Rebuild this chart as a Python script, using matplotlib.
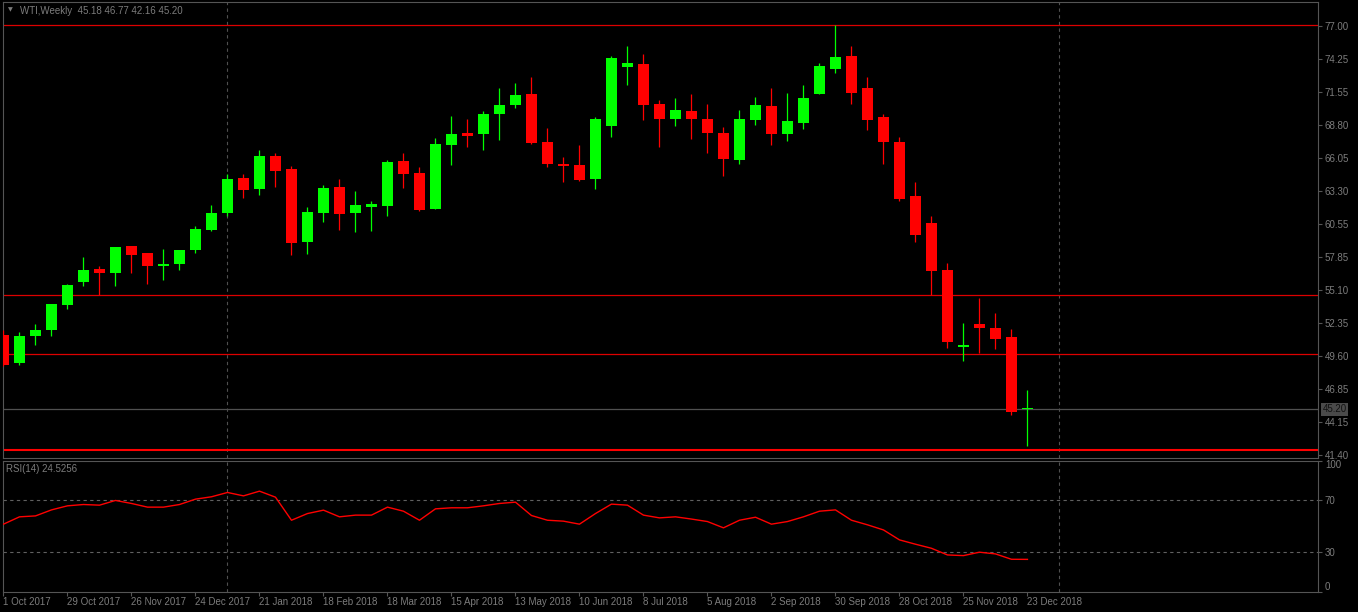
import matplotlib
matplotlib.use("Agg")
import matplotlib.pyplot as plt
import numpy as np

# ---------------- data ----------------
opens = [51.36, 49.06, 51.30, 51.80, 53.87, 55.78, 56.83, 56.53, 58.74, 58.16,
         57.11, 57.27, 58.44, 60.10, 61.51, 64.39, 63.50, 66.21, 65.13, 59.10,
         61.51, 63.64, 61.51, 62.00, 62.09, 65.80, 64.80, 61.81, 67.12, 68.12,
         68.04, 69.70, 70.44, 71.36, 67.37, 65.55, 65.46, 64.30, 68.70, 73.60,
         73.85, 70.53, 69.28, 69.95, 69.28, 68.12, 65.88, 69.20, 70.36, 68.04,
         68.95, 71.36, 73.43, 74.51, 71.85, 69.45, 67.37, 62.89, 60.65, 56.75,
         50.36, 52.27, 51.94, 51.19, 45.18]
highs = [51.77, 51.60, 52.27, 53.93, 55.59, 57.83, 57.08, 58.66, 58.74, 58.16,
         58.49, 58.41, 60.40, 62.15, 64.72, 64.72, 66.71, 66.46, 65.38, 61.98,
         63.80, 64.30, 63.31, 62.48, 65.88, 66.46, 65.30, 67.71, 69.53, 69.28,
         69.95, 71.85, 72.27, 72.77, 68.54, 66.13, 67.12, 69.45, 74.51, 75.34,
         74.68, 70.86, 71.02, 71.36, 70.53, 68.62, 70.03, 71.11, 71.85, 71.44,
         72.10, 73.93, 77.08, 75.34, 72.77, 69.70, 67.79, 64.05, 61.23, 57.33,
         52.35, 54.43, 53.18, 51.85, 46.77]
lows = [48.78, 48.87, 50.50, 51.27, 53.54, 55.45, 54.68, 55.45, 56.53, 55.61,
        55.95, 56.78, 58.19, 60.01, 61.26, 62.75, 63.00, 63.66, 57.99, 58.10,
        60.76, 60.10, 59.93, 60.01, 61.26, 63.58, 61.65, 61.81, 65.46, 66.96,
        66.71, 67.54, 70.20, 67.21, 65.30, 64.05, 64.14, 63.47, 67.79, 72.10,
        69.20, 66.96, 68.70, 67.62, 66.46, 64.55, 65.55, 68.78, 67.12, 67.46,
        68.45, 71.36, 73.10, 70.53, 68.37, 65.55, 62.48, 59.07, 54.68, 50.28,
        49.20, 49.86, 50.20, 44.72, 42.16]
closes = [48.87, 51.27, 51.77, 53.93, 55.51, 56.75, 56.53, 58.66, 58.02, 57.11,
          57.25, 58.41, 60.15, 61.48, 64.30, 63.42, 66.21, 64.99, 59.02, 61.56,
          63.56, 61.42, 62.15, 62.23, 65.71, 64.74, 61.73, 67.21, 68.04, 67.87,
          69.70, 70.44, 71.27, 67.29, 65.55, 65.38, 64.22, 69.28, 74.34, 73.93,
          70.44, 69.28, 70.03, 69.28, 68.12, 65.96, 69.28, 70.44, 68.04, 69.12,
          71.02, 73.68, 74.43, 71.44, 69.20, 67.37, 62.64, 59.66, 56.67, 50.78,
          50.53, 51.94, 51.02, 44.97, 45.20]
rsi = [51.4, 57.0, 57.7, 62.3, 65.4, 66.4, 65.9, 69.5, 67.2, 64.4,
       64.4, 66.4, 70.5, 72.3, 75.6, 73.0, 76.6, 72.0, 54.4, 59.5,
       62.1, 57.0, 58.3, 58.3, 64.4, 61.3, 54.4, 63.1, 63.9, 63.9,
       65.4, 67.2, 68.2, 58.0, 54.4, 53.7, 51.4, 59.5, 66.7, 65.9,
       58.3, 56.2, 57.0, 55.3, 53.4, 48.6, 54.4, 56.7, 51.4, 53.4,
       57.0, 61.3, 62.3, 54.4, 50.9, 47.0, 39.4, 36.1, 33.0, 27.9,
       27.4, 30.0, 28.7, 24.6, 24.5256]

xtick_idx = [0, 4, 8, 12, 16, 20, 24, 28, 32, 36, 40, 44, 48, 52, 56, 60, 64]
xtick_labels = ["1 Oct 2017", "29 Oct 2017", "26 Nov 2017", "24 Dec 2017",
                "21 Jan 2018", "18 Feb 2018", "18 Mar 2018", "15 Apr 2018",
                "13 May 2018", "10 Jun 2018", "8 Jul 2018", "5 Aug 2018",
                "2 Sep 2018", "30 Sep 2018", "28 Oct 2018", "25 Nov 2018",
                "23 Dec 2018"]
price_ticks = [77.00, 74.25, 71.55, 68.80, 66.05, 63.30, 60.55, 57.85,
               55.10, 52.35, 49.60, 46.85, 44.15, 41.40]
red_levels = [77.05, 54.66, 49.82]
support_level = 41.78
bid_price = 45.20
year_grid_idx = [14, 66]
rsi_levels = [70, 30]
rsi_ticks = [100, 70, 30, 0]
title_text = "WTI,Weekly  45.18 46.77 42.16 45.20"
rsi_text = "RSI(14) 24.5256"

# ---------------- style ----------------
BG = "#000000"
FRAME = "#555555"
TXT = "#7c7c7c"
BULL = "#00ff00"
BEAR = "#ff0000"
FONT = "Liberation Sans"
FS = 7

W, H = 1358, 612
fig = plt.figure(figsize=(W / 100, H / 100), dpi=100, facecolor=BG)
ax1 = fig.add_axes([3 / W, 1 - 458 / H, (1318 - 3) / W, (458 - 2) / H])
ax2 = fig.add_axes([3 / W, 1 - 591.5 / H, (1318 - 3) / W, (591.5 - 460.5) / H])

xlim = (-0.031, 82.16)
n = len(opens)
x = np.arange(n)
o = np.array(opens); c = np.array(closes)
hi = np.array(highs); lo = np.array(lows)
up = c >= o
cols = np.where(up, BULL, BEAR)

for ax in (ax1, ax2):
    ax.set_facecolor(BG)
    ax.set_xlim(*xlim)
    for s in ax.spines.values():
        s.set_color(FRAME)
        s.set_linewidth(0.8)
    for gx in year_grid_idx:
        ax.axvline(gx, color="#505050", lw=0.8, ls=(0, (3, 3)), zorder=1)

# main panel
ax1.set_ylim(41.15, 78.99)
for lv in red_levels:
    ax1.axhline(lv, color="#dd0000", lw=0.9, zorder=2)
ax1.axhline(support_level, color="#ff0000", lw=1.5, zorder=2)
ax1.axhline(bid_price, color="#505050", lw=0.9, zorder=2)

ax1.vlines(x, lo, hi, colors=cols, lw=0.9, zorder=3)
body_bottom = np.minimum(o, c)
body_h = np.maximum(np.abs(c - o), 0.09)
ax1.bar(x, body_h, bottom=body_bottom, width=0.6875, color=cols,
        edgecolor="none", zorder=4)

ax1.yaxis.tick_right()
ax1.set_yticks(price_ticks)
ax1.set_yticklabels([f"{v:.2f}" for v in price_ticks])
ax1.tick_params(axis="y", colors=FRAME, labelcolor=TXT, labelsize=FS,
                length=3, width=0.8, pad=2)
for t in ax1.get_yticklabels():
    t.set_fontfamily(FONT)
ax1.set_xticks([])

# bid price label box
ax1.text(1.0035, bid_price, f"{bid_price:.2f}", transform=ax1.get_yaxis_transform(),
         ha="left", va="center", fontsize=FS, family=FONT, color="#111111",
         bbox=dict(boxstyle="square,pad=0.15", fc="#4a4a4a", ec="none"),
         zorder=10, clip_on=False)

ax1.text(5 / 1315, 1 - 8 / 456, "\u25bc", transform=ax1.transAxes, ha="left",
         va="center", fontsize=4.5, color=TXT, family="DejaVu Sans")
ax1.text(17 / 1315, 1 - 9 / 456, title_text, transform=ax1.transAxes, ha="left",
         va="center", fontsize=FS, color=TXT, family=FONT)

# RSI panel
ax2.set_ylim(0, 100)
for lv in rsi_levels:
    ax2.axhline(lv, color="#606060", lw=0.8, ls=(0, (3, 3)), zorder=1)
ax2.plot(x, rsi, color="#ff0000", lw=1.0, zorder=3)
ax2.yaxis.tick_right()
ax2.set_yticks(rsi_ticks)
ax2.set_yticklabels([str(v) for v in rsi_ticks])
ax2.tick_params(axis="y", colors=FRAME, labelcolor=TXT, labelsize=FS,
                length=3, width=0.8, pad=2)
ylabs = ax2.get_yticklabels()
for t in ylabs:
    t.set_fontfamily(FONT)
ylabs[0].set_va("top")
ylabs[-1].set_va("bottom")

ax2.set_xticks(xtick_idx)
ax2.set_xticklabels(xtick_labels)
ax2.tick_params(axis="x", colors=FRAME, labelcolor=TXT, labelsize=FS,
                length=3, width=0.8, pad=1)
for t in ax2.get_xticklabels():
    t.set_fontfamily(FONT)
    t.set_ha("left")

ax2.text(3 / 1315, 1 - 9 / 131, rsi_text, transform=ax2.transAxes, ha="left",
         va="center", fontsize=FS, color=TXT, family=FONT)

fig.savefig("out.png", dpi=100, facecolor=BG)
